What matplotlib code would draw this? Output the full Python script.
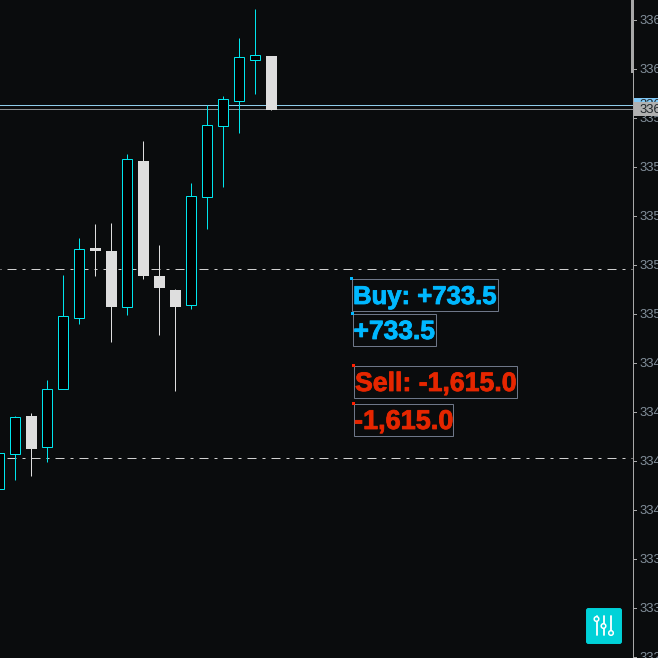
import matplotlib
matplotlib.use('Agg')
import matplotlib.pyplot as plt
import matplotlib.patheffects as pe
from matplotlib.patches import Rectangle, FancyBboxPatch, Circle

plt.rcParams['font.family'] = ['Liberation Sans', 'DejaVu Sans']
plt.rcParams['lines.scale_dashes'] = False

BG = '#0a0c0d'
CYAN = '#00e5ec'
WHITE = '#dedede'

# candles, left to right
opens = [3341.365, 3343.085, 3345.0, 3343.465, 3346.365, 3349.915, 3353.4, 3353.25, 3350.465,
         3357.75, 3352.0, 3351.3, 3350.565, 3355.965, 3359.515, 3360.765, 3362.815, 3363.0]
closes = [3343.135, 3344.935, 3343.35, 3346.335, 3349.985, 3353.335, 3353.25, 3350.45, 3357.835,
          3352.0, 3351.4, 3350.45, 3355.985, 3359.535, 3360.835, 3362.935, 3363.035, 3360.3]
highs = [3343.135, 3345.0, 3345.15, 3346.8, 3352.05, 3353.9, 3354.6, 3354.65, 3358.1,
         3358.75, 3353.55, 3351.35, 3356.65, 3360.55, 3361.0, 3363.9, 3365.35, 3363.0]
lows = [3341.365, 3341.8, 3342.0, 3342.715, 3346.365, 3349.6, 3352.0, 3348.7, 3350.05,
        3351.85, 3349.05, 3346.25, 3350.35, 3354.35, 3356.45, 3359.15, 3361.1, 3360.3]

# price levels
order_levels = [3360.535, 3360.335]
order_colors = ['#8fcdea', '#8a8f92']
dash_levels = [3352.335, 3342.885]

# axis ticks, the labels are cut by the edge of the picture
tick_prices = [3364.8, 3362.35, 3359.9, 3357.45, 3355.0, 3352.55, 3350.1,
               3347.65, 3345.2, 3342.75, 3340.3, 3337.85, 3335.4, 3332.95]
tick_labels = ['336', '336', '335', '335', '335', '335', '335',
               '334', '334', '334', '334', '333', '333', '332']

# text boxes
buy_labels = ['Buy: +733.5', '+733.5']
sell_labels = ['Sell: -1,615.0', '-1,615.0']

fig = plt.figure(figsize=(6.58, 6.58), dpi=100, facecolor=BG)
ax = fig.add_axes([0, 0, 1, 1])
ax.set_facecolor(BG)
x0 = 1 / 16
ax.set_xlim(x0, x0 + 658 / 16)
ax.set_ylim(3332.9, 3365.8)
ax.axis('off')

x_end = x0 + 632.0 / 16

for lev, col in zip(order_levels, order_colors):
    ax.plot([x0, x_end], [lev, lev], color=col, lw=0.72, zorder=1, snap=True)
for lev in dash_levels:
    ax.plot([x0, x_end], [lev, lev], color='#d0d0d0', lw=0.72, zorder=1, snap=True,
            linestyle=(12.24, (6.48, 4.32, 2.16, 4.32)), dash_capstyle='butt')

for i in range(len(opens)):
    o, c, h, l = opens[i], closes[i], highs[i], lows[i]
    up = c > o
    col = CYAN if up else WHITE
    ax.plot([i, i], [l, h], color=col, lw=0.72, zorder=2, solid_capstyle='butt', snap=True)
    if up:
        ax.add_patch(Rectangle((i - 0.3125, o), 0.625, c - o, facecolor='#000000',
                               edgecolor=col, lw=0.72, zorder=3, snap=True))
    else:
        ax.add_patch(Rectangle((i - 0.34375, c), 0.6875, o - c, facecolor=col,
                               edgecolor='none', zorder=3, snap=True))

# overlay in pixels for the right hand scale and the text boxes
ov = fig.add_axes([0, 0, 1, 1])
ov.patch.set_alpha(0)
ov.set_xlim(0, 658)
ov.set_ylim(658, 0)
ov.axis('off')

ov.plot([632.5, 632.5], [0, 658], color='#a8a8a8', lw=0.72, zorder=4, snap=True)
ov.add_patch(Rectangle((630.6, 0), 3.4, 72.5, facecolor='#a8a8a8', edgecolor='none', zorder=4, snap=True))

for p, lab in zip(tick_prices, tick_labels):
    y = (3365.8 - p) / 0.05
    ov.plot([633, 636], [y, y], color='#a8a8a8', lw=0.72, zorder=4, snap=True)
    ov.text(639, y + 1, lab, color='#84919c', fontsize=9.4, va='center', ha='left', zorder=5)

ov.text(639, 105, '336', color='#20262a', fontsize=9.4, va='center', ha='left', zorder=5.5)
ov.add_patch(Rectangle((634, 98), 24, 4, facecolor='#80c8f5', edgecolor='none', zorder=5.2))
ov.add_patch(Rectangle((634, 102), 24, 14, facecolor='#b0b0b0', edgecolor='none', zorder=5.6))
ov.text(639, 110, '336', color='#20262a', fontsize=9.4, va='center', ha='left', zorder=5.7)

boxes = [
    (351.6, 278.6, 146, 32, buy_labels[0], '#00b8ff', 353, 18.5),
    (352.6, 313.6, 83, 32, buy_labels[1], '#00b8ff', 353.5, 19),
    (353.6, 365.6, 163, 32, sell_labels[0], '#e52600', 355, 19.2),
    (353.6, 403.6, 99, 32, sell_labels[1], '#e52600', 354, 19.5),
]
for x, y, w, h, txt, col, tx, fs in boxes:
    ov.add_patch(Rectangle((x, y), w, h, facecolor='none', edgecolor='#6e7788', lw=0.72, zorder=6, snap=True))
    ov.text(tx, y + 18.4, txt, color=col, fontsize=fs, fontweight='bold', va='center', ha='left', zorder=7,
            path_effects=[pe.withStroke(linewidth=0.6, foreground=col)])

for x, y, col in [(351.5, 278.5, '#00b8ff'), (352.5, 313.5, '#00b8ff'),
                  (353.5, 365.5, '#ff2000'), (353.5, 403.5, '#ff2000')]:
    ov.add_patch(Rectangle((x - 1.5, y - 1.5), 3, 3, facecolor=col, edgecolor='none', zorder=8, snap=True))

# settings button
ov.add_patch(FancyBboxPatch((586.5, 608.5), 35, 35, boxstyle='round,pad=0,rounding_size=2',
                            facecolor='#00d2d8', edgecolor='#00d2d8', lw=0.7, zorder=6))
for x, yc in [(596.5, 619), (603.5, 626), (611, 633)]:
    ov.plot([x, x], [616, 635], color='white', lw=1.3, zorder=7, solid_capstyle='round')
    ov.add_patch(Circle((x, yc), 2.3, facecolor='#00d2d8', edgecolor='white', lw=1.1, zorder=8))

fig.savefig('out.png', dpi=100, facecolor=BG)
